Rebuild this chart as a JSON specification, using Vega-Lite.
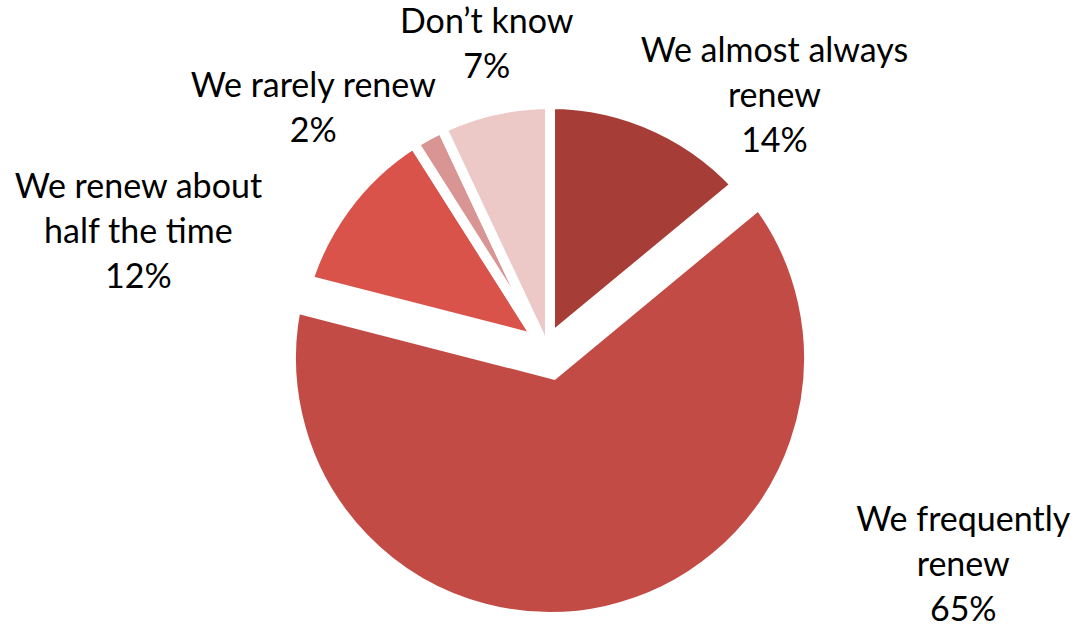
{
  "$schema": "https://vega.github.io/schema/vega-lite/v6.json",
  "width": 1048,
  "height": 540,
  "padding": {"left": 26, "top": 88, "right": 0, "bottom": 5},
  "autosize": {"type": "none"},
  "background": "white",
  "view": {"stroke": null},
  "data": {
    "values": [
      {"category": "We almost always renew", "label": "We almost always\nrenew\n14%", "share": 0.14},
      {"category": "We frequently renew", "label": "We frequently\nrenew\n65%", "share": 0.65},
      {"category": "We renew about half the time", "label": "We renew about\nhalf the time\n12%", "share": 0.12},
      {"category": "We rarely renew", "label": "We rarely renew\n2%", "share": 0.02},
      {"category": "Don’t know", "label": "Don’t know\n7%", "share": 0.07}
    ]
  },
  "transform": [{"window": [{"op": "row_number", "as": "rank"}]}],
  "encoding": {
    "theta": {"field": "share", "type": "quantitative", "stack": true},
    "order": {"field": "rank", "type": "quantitative"},
    "color": {
      "field": "category",
      "type": "nominal",
      "scale": {
        "domain": ["We almost always renew", "We frequently renew", "We renew about half the time", "We rarely renew", "Don’t know"],
        "range": ["#a63d36", "#c24b45", "#d9534b", "#d99593", "#ecc9c7"]
      },
      "legend": null
    }
  },
  "layer": [
    {
      "mark": {"type": "arc", "radius": 254, "stroke": "white", "strokeWidth": 10},
      "encoding": {
        "opacity": {"condition": {"test": "datum.category === 'We frequently renew'", "value": 0}, "value": 1}
      }
    },
    {
      "mark": {"type": "arc", "radius": 274, "stroke": "white", "strokeWidth": 40},
      "encoding": {
        "opacity": {"condition": {"test": "datum.category === 'We frequently renew'", "value": 1}, "value": 0}
      }
    },
    {
      "mark": {
        "type": "text",
        "radius": 290,
        "font": "Lato",
        "fontSize": 34,
        "lineHeight": 45,
        "lineBreak": "\n",
        "align": "center",
        "baseline": "middle",
        "dx": {"expr": "datum.category === 'We almost always renew' ? 101 : datum.category === 'We frequently renew' ? 350 : datum.category === 'We renew about half the time' ? -177 : datum.category === 'We rarely renew' ? -97 : 0"},
        "dy": {"expr": "datum.category === 'We almost always renew' ? -44 : datum.category === 'We frequently renew' ? -120 : datum.category === 'We renew about half the time' ? 0 : datum.category === 'We rarely renew' ? -17 : -52"}
      },
      "encoding": {
        "text": {"field": "label", "type": "nominal"},
        "color": {"value": "#000000"}
      }
    }
  ]
}
